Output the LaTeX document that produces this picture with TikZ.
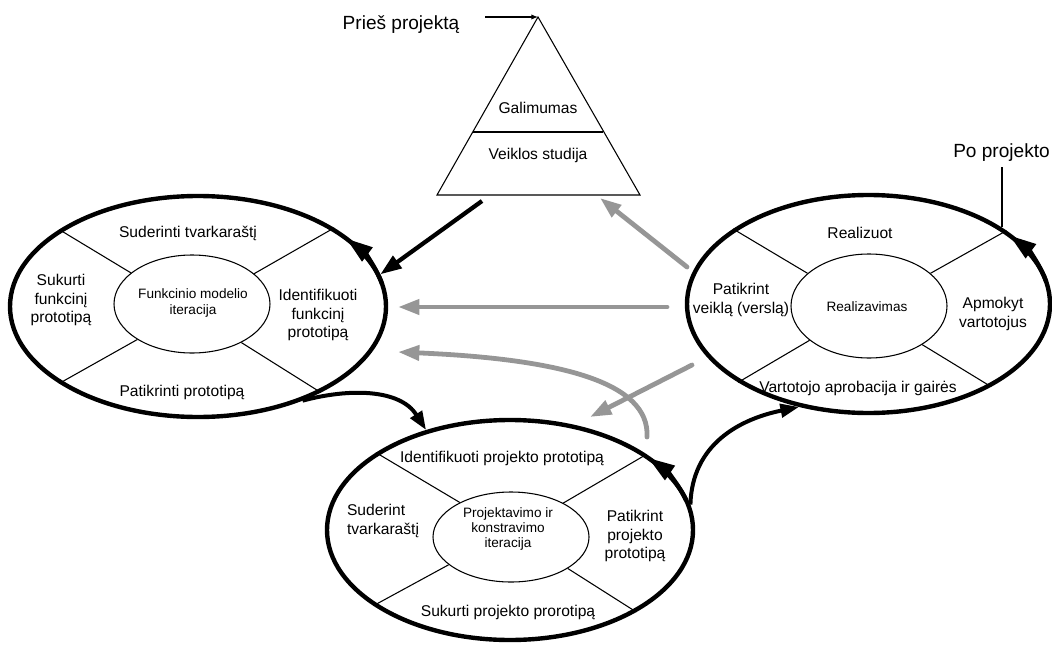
\documentclass[tikz,border=0pt]{standalone}
\usepackage{fontspec}
\setmainfont{Liberation Sans}
\usetikzlibrary{shapes.geometric,arrows.meta}
\definecolor{flowgray}{RGB}{150,150,150}
\begin{document}
\begin{tikzpicture}[x=0.75pt,y=0.75pt,
  outer/.style={ellipse,draw,line width=3.3pt,inner sep=0pt},
  inner/.style={ellipse,draw,line width=0.8pt,inner sep=0pt},
  divider/.style={line width=0.8pt},
  lbl/.style={font=\fontsize{11.7}{14}\selectfont,align=center,inner sep=0pt},
  core/.style={font=\fontsize{10.2}{11.5}\selectfont,align=center,inner sep=0pt},
  note/.style={font=\fontsize{14.3}{16}\selectfont,inner sep=0pt},
  cycletip/.style={line width=3.3pt,-{Triangle[length=20pt,width=12.5pt]}},
  blackflow/.style={line width=3.2pt,-{Triangle[length=16pt,width=11pt]}},
  blackcurve/.style={line width=3pt,-{Triangle[length=14pt,width=10pt]}},
  grayflow/.style={draw=flowgray,line width=3.6pt,line cap=round,-{Triangle[length=16pt,width=11pt]}},
  pointer/.style={line width=0.8pt,-{Latex[length=5pt,width=4pt]}}
]
\useasboundingbox (0,0) rectangle (1052,644);

% ---------- pyramid ----------
\coordinate (apex) at (538,627);
\coordinate (baseL) at (437,449);
\coordinate (baseR) at (640,449);
\draw[line width=0.8pt] (apex) -- (baseL) -- (baseR) -- cycle;
\draw[line width=0.8pt] (472.7,512) -- (603.3,512);
\node[lbl] (galim) at (538,536) {Galimumas};
\node[lbl] (veikl) at (538,489) {Veiklos studija};
\node[note,anchor=base] (pries) at (401,614) {Prieš projektą};
\coordinate (pries-end) at (485,627);
\draw[pointer] (pries-end) -- (apex);

% ---------- functional model iteration ----------
\node[outer,minimum width=282pt,minimum height=165.75pt] (L) at (198,337.5) {};
\node[inner,minimum width=117pt,minimum height=73.5pt] (Li) at (192,340) {};
\draw[divider] (Li.153.4) -- (L.151.4);
\draw[divider] (Li.26.9) -- (L.30.1);
\draw[divider] (Li.213) -- (L.209.2);
\draw[divider] (Li.322.5) -- (L.325.6);
\draw[cycletip] (L.center) ++(12:188 and 110.5) arc[start angle=12,end angle=38,x radius=188,y radius=110.5];
\node[lbl] (l-top) at (188,411) {Suderinti tvarkaraštį};
\node[lbl] (l-left) at (61,344) {Sukurti\\funkcinį\\prototipą};
\node[core] (l-core) at (193,341) {Funkcinio modelio\\iteracija};
\node[lbl] (l-right) at (318,329) {Identifikuoti\\funkcinį\\prototipą};
\node[lbl] (l-bot) at (182,252) {Patikrinti prototipą};

% ---------- implementation ----------
\node[outer,minimum width=272.25pt,minimum height=163.5pt] (R) at (868.5,340) {};
\node[inner,minimum width=117pt,minimum height=78pt] (Ri) at (869,338) {};
\draw[divider] (Ri.152) -- (R.151.1);
\draw[divider] (Ri.28.4) -- (R.28);
\draw[divider] (Ri.210.8) -- (R.211.3);
\draw[divider] (Ri.324.2) -- (R.326.1);
\draw[cycletip] (R.center) ++(12:181.5 and 109) arc[start angle=12,end angle=39,x radius=181.5,y radius=109];
\node[lbl] (r-top) at (860,411) {Realizuot};
\node[lbl] (r-left) at (741,344) {Patikrint\\veiklą (verslą)};
\node[core] (r-core) at (867,337) {Realizavimas};
\node[lbl] (r-right) at (993,330) {Apmokyt\\vartotojus};
\node[lbl] (r-bot) at (858,256) {Vartotojo aprobacija ir gairės};
\node[note,anchor=base west] (po) at (953,487) {Po projekto};
\coordinate (po-foot) at (1002,477);
\draw[line width=0.8pt] (po-foot) -- (po-foot |- R.30);

% ---------- design and build iteration ----------
\node[outer,minimum width=274.5pt,minimum height=165pt] (B) at (510,114) {};
\node[inner,minimum width=117pt,minimum height=67.5pt] (Bi) at (511,107) {};
\draw[divider] (Bi.146.7) -- (B.150.1);
\draw[divider] (Bi.33.3) -- (B.29);
\draw[divider] (Bi.204.7) -- (B.209.9);
\draw[divider] (Bi.331.8) -- (B.327.6);
\draw[cycletip] (B.center) ++(16:183 and 110) arc[start angle=16,end angle=41,x radius=183,y radius=110];
\node[lbl] (b-top) at (502,186) {Identifikuoti projekto prototipą};
\node[lbl,align=left] (b-left) at (383,123) {Suderint\\tvarkaraštį};
\node[core] (b-core) at (508,115) {Projektavimo ir\\konstravimo\\iteracija};
\node[lbl] (b-right) at (635,108) {Patikrint\\projekto\\prototipą};
\node[lbl] (b-bot) at (508,32) {Sukurti projekto prorotipą};

% ---------- flows between phases ----------
\coordinate (pyr-out) at (482,443);
\draw[blackflow] (pyr-out) -- (L.10);
\draw[blackcurve] (L.-42) .. controls (350,256) and (400,255) .. (B.130);
\draw[blackcurve] (B.8) .. controls (692,200) and (740,225) .. (R.236);

\coordinate (g1s) at (687,377);
\coordinate (g1e) at (600,446);
\coordinate (g2s) at (667,337);
\coordinate (g2e) at (398,337);
\coordinate (g3s) at (647,207);
\coordinate (g3e) at (398,292);
\coordinate (g4s) at (692,279);
\coordinate (g4e) at (590,227);
\draw[grayflow] (g1s) -- (g1e);
\draw[grayflow] (g2s) -- (g2e);
\draw[grayflow] (g3s) .. controls (650,262) and (560,285) .. (g3e);
\draw[grayflow] (g4s) -- (g4e);
\end{tikzpicture}
\end{document}
